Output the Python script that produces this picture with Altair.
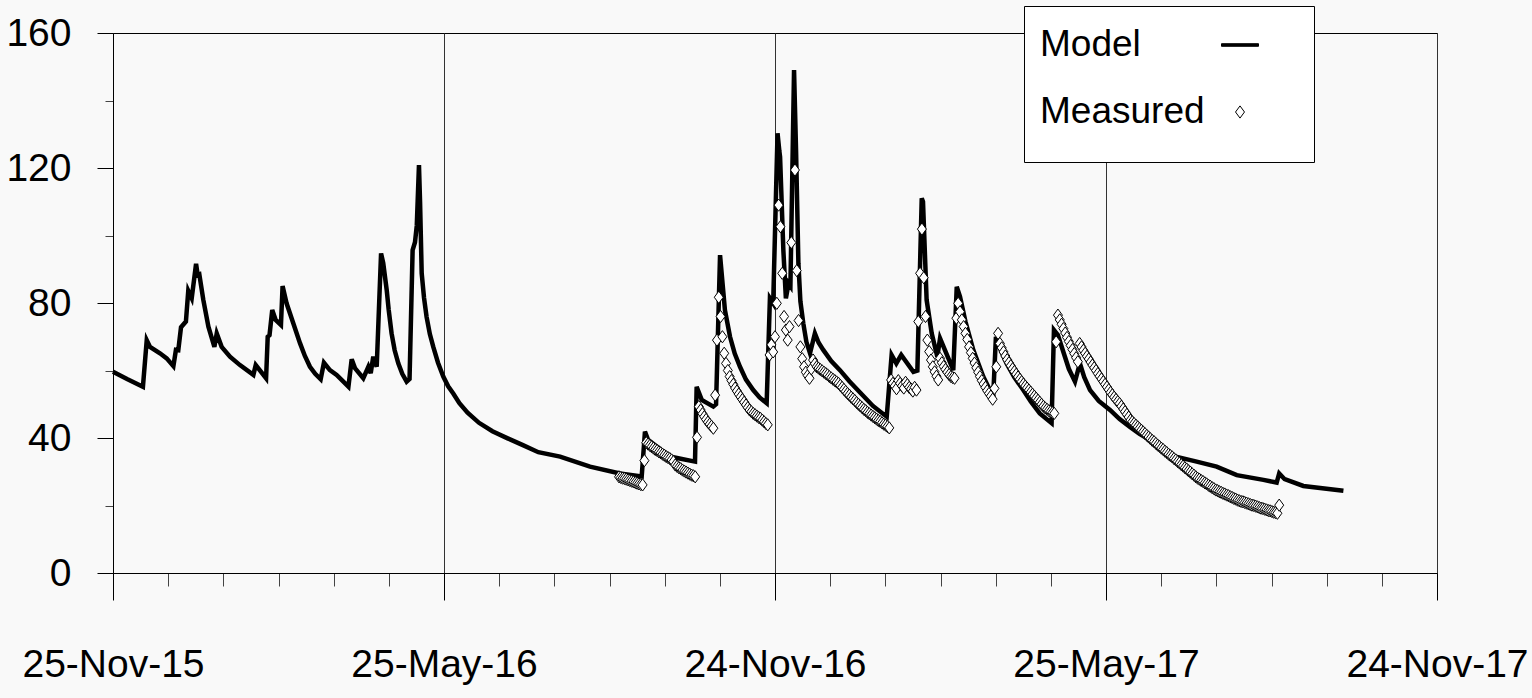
import datetime as dt
import altair as alt
import pandas as pd

START = dt.datetime(2015, 11, 25)
END = dt.datetime(2017, 11, 24)

# Model (simulated) series: day offset from 25-Nov-2015, value
model_day = [0, 8, 16.5, 18.6, 20.4, 25.9, 29.6, 33.3, 34.7, 36, 37.5, 40.2, 41.5, 43.4, 45.8, 46.7,
             47.6, 49.8, 52.6, 55.9, 57.2, 59.9, 64.5, 70, 77.4, 78.7, 84.4, 85.3, 86.3, 87.8, 89.7,
             92.6, 93.5, 95.7, 99.4, 103.1, 105.8, 108.6, 111.5, 114.5, 116.3, 119.6, 123.3, 129.8,
             131.6, 133.4, 138, 140.8, 142.1, 143.5, 145.4, 147.8, 149, 150.9, 152, 153.6, 155.3,
             157.3, 159.5, 161.9, 163.5, 165.2, 166.5, 167.5, 168.7, 169.3, 170.2, 171.5, 172.9,
             174.7, 176.6, 179.2, 182.1, 184.8, 187.6, 191, 195.5, 201.8, 209.2, 217.6, 226, 234.5,
             246.5, 263, 279.5, 291.5, 293.3, 295, 307, 320.9, 321.8, 324.6, 331, 332.5, 334.7,
             337.4, 340.2, 342.8, 345.7, 349, 353, 356.5, 360.4, 362.2, 364, 366.4, 367.4, 367.8,
             369.6, 371, 372.5, 373.5, 375.5, 376.6, 377.9, 379, 380.6, 382.3, 384.3, 387, 389,
             391.6, 396, 400.8, 406, 411.9, 419, 426.6, 429.3, 431.9, 434.6, 437, 441.3, 443.5,
             445.9, 446.6, 448.6, 451.4, 454.5, 456, 463.3, 465.2, 467, 470, 474.3, 479.8, 485.3,
             486.8, 489.5, 492.7, 497, 501.9, 506, 511, 517.5, 518.8, 521, 524, 527, 530.4, 533.1,
             535.5, 538.7, 543.5, 549.7, 555, 560.7, 566, 571.8, 577, 582.8, 586, 597.5, 608.5,
             619.6, 634.3, 641.6, 643, 646, 656.3, 678.4]
model_value = [59.6, 57.4, 55.2, 69.0, 67.0, 65.1, 63.6, 61.3, 66.1, 66.0, 72.8, 74.5, 83.6, 81.4,
               91.6, 88.3, 88.5, 80.9, 73.0, 67.0, 71.0, 67.0, 64.1, 61.6, 58.7, 61.6, 57.7, 70.0,
               70.5, 77.9, 75.0, 73.5, 85.0, 79.9, 74.0, 68.1, 64.3, 61.1, 59.0, 57.4, 62.3, 60.1,
               58.7, 55.2, 63.3, 60.7, 57.7, 61.1, 59.2, 64.1, 61.1, 94.7, 91.8, 83.9, 78.0, 71.0,
               66.0, 62.1, 59.0, 56.7, 57.5, 95.7, 98.0, 103.0, 120.9, 110.0, 88.8, 81.5, 75.9,
               70.8, 67.0, 62.3, 58.2, 55.3, 53.2, 50.3, 47.5, 44.5, 42.0, 39.9, 37.9, 35.8,
               34.5, 31.5, 29.5, 28.6, 41.9, 39.5, 34.5, 33.0, 55.2, 51.3, 49.3, 50.0, 94.2,
               77.9, 70.0, 65.0, 61.1, 57.3, 54.2, 52.0, 50.3, 81.4, 79.9, 130.3, 125.0, 123.3,
               95.7, 81.4, 85.8, 85.0, 149.0, 125.3, 91.8, 80.5, 74.0, 68.5, 65.1, 71.0, 68.3,
               66.1, 62.8, 60.1, 56.8, 53.5, 49.5, 46.3, 64.6, 62.1, 64.6, 62.8, 59.6, 60.0,
               111.0, 110.0, 80.9, 71.0, 64.1, 69.5, 60.1, 84.8, 81.9, 74.5, 66.1, 58.2, 52.2,
               70.0, 66.0, 62.1, 58.0, 54.2, 50.8, 47.3, 44.4, 72.0, 70.5, 65.5, 60.5, 56.7, 62.1,
               58.0, 54.2, 51.0, 48.3, 45.6, 43.3, 41.2, 39.4, 37.0, 35.0, 34.5, 33.0, 31.5,
               29.0, 27.6, 26.8, 29.5, 27.8, 25.8, 24.4]

# Measured series: runs of daily readings, (first day offset, values)
measured_runs = [
    (279, [28.5, 28.3, 28.1, 28.0, 27.8, 27.6, 27.4, 27.2, 27.0, 26.8, 26.6, 26.4, 26.2, 26.1,
           33.3, 38.6, 38.2, 37.8, 37.4, 37.0, 36.6, 36.3, 35.9, 35.6, 35.2, 34.9, 34.5, 34.2,
           33.9, 33.5, 33.0, 32.0, 31.6, 31.2, 30.9, 30.5, 30.2, 29.9, 29.6, 29.3, 29.0, 28.8,
           28.5, 40.2, 49.3, 48.3, 47.2, 46.3, 45.5, 44.7, 44.1, 43.5, 42.9,
           52.7, 69.0, 81.7, 76.0, 70.0, 65.1, 62.1, 60.0, 58.2, 57.0, 55.9, 54.8, 53.9, 53.0,
           52.2, 51.4, 50.6, 49.8, 49.0, 48.3, 47.8, 47.3, 46.9, 46.5, 46.1, 45.8, 45.3, 44.8,
           44.3, 43.9, 64.6, 67.6, 65.5, 70.0, 79.9, 109.0, 102.6, 88.8, 76.0, 72.0, 69.0, 73.0,
           97.9]),
    (376, [119.4, 89.6, 74.8, 67.0, 63.5, 61.1, 59.5, 58.5, 57.7, 60.5, 63.1, 62.0,
           61.1, 60.7, 60.3, 59.9, 59.5, 59.1, 58.7, 58.2, 57.8, 57.4, 57.0, 56.6, 56.2, 55.6,
           55.0, 54.4, 53.8, 53.2, 52.7, 52.1, 51.6, 51.1, 50.5, 50.0, 49.5, 49.0, 48.5, 48.1,
           47.6, 47.2, 46.8, 46.4, 46.0, 45.6, 45.2, 44.9, 44.5, 44.1, 43.8, 43.4, 43.0,
           57.2, 56.2, 55.4, 54.6, 57.0, 56.2, 55.4, 54.8, 56.5, 55.8, 55.0, 54.5, 53.9, 55.0,
           54.2, 74.5, 88.8, 101.9, 87.5, 76.0, 69.0, 65.6, 63.1, 61.1, 59.6, 58.3, 57.2, 63.6,
           62.3, 61.2, 60.3, 59.5, 58.8, 58.2, 57.9, 57.7, 75.5, 79.9, 77.4, 75.0, 73.0, 71.0,
           69.2, 67.0, 65.3, 63.6, 62.2, 60.8, 59.5, 58.2, 57.0, 56.0, 55.0, 54.0, 53.2, 52.4,
           51.5, 54.7, 61.1, 71.0, 68.0, 66.7, 65.5, 64.3, 63.2, 62.3, 61.4, 60.5, 59.7, 58.9,
           58.1, 57.4, 56.7, 56.0, 55.4, 54.8, 54.2, 53.6, 53.0, 52.4, 51.8, 51.2, 50.6, 50.0,
           49.4, 48.9, 48.5, 48.1, 47.8, 47.5, 47.3, 68.5, 76.4, 75.0, 73.7, 72.4, 71.1, 69.8,
           68.6, 67.4, 66.2, 65.0, 63.8, 62.6, 68.0, 67.0, 66.0, 65.1, 64.2, 63.4, 62.5, 61.6,
           60.8, 60.0, 59.1, 58.3, 57.5, 56.7, 55.9, 55.1, 54.3, 53.5, 52.8, 52.1, 51.4, 50.8,
           50.2, 49.4, 48.6, 47.8, 47.0, 46.2, 45.3, 44.8, 44.3, 43.8, 43.3, 42.8, 42.3, 41.8,
           41.3, 40.8, 40.3, 39.8, 39.3, 38.9, 38.4, 37.9, 37.5, 37.0, 36.6, 36.1, 35.7, 35.2,
           34.8, 34.4, 33.9, 33.5, 33.0, 32.6, 32.1, 31.7, 31.2, 30.8, 30.3, 29.9, 29.4, 29.0,
           28.5, 28.1, 27.8, 27.4, 27.1, 26.7, 26.4, 26.0, 25.7, 25.3, 25.0, 24.6, 24.4, 24.1,
           23.9, 23.6, 23.4, 23.1, 22.9, 22.6, 22.4, 22.1, 21.9, 21.6, 21.4, 21.2, 21.1, 20.9,
           20.7, 20.5, 20.3, 20.1, 20.0, 19.8, 19.6, 19.4, 19.2, 19.1, 18.9, 18.7, 18.5, 18.4,
           18.2, 18.0, 17.9, 17.7, 20.1]),
]

series_names = ["Model", "Measured"]
y_major = [0, 40, 80, 120, 160]
y_minor = [20, 60, 100, 140]
MAJOR_DAYS = 182.5          # axis major unit (days)
MINOR_PER_MAJOR = 6

FONT = "Liberation Sans"
FS = 39
BG = "#f9f9f9"
# legend/point symbols (unit box scaled by sqrt(size)/2); the trailing move widens the legend box
LINE_SYM = "M-1,-0.07H1V0.07H-1Z M2.8,0.8"
DIAMOND_SYM = "M0,-0.33L0.243,0L0,0.33L-0.243,0Z"
SYM_SIZE = 1369


def to_dt(d):
    return alt.DateTime(year=d.year, month=d.month, date=d.day, hours=d.hour, minutes=d.minute)


model_df = pd.DataFrame({
    "date": [START + dt.timedelta(days=d) for d in model_day],
    "value": model_value,
    "series": "Model",
})
m_days, m_vals = [], []
for first, vals in measured_runs:
    for i, v in enumerate(vals):
        m_days.append(first + i)
        m_vals.append(v)
meas_df = pd.DataFrame({
    "date": [START + dt.timedelta(days=d) for d in m_days],
    "value": m_vals,
    "series": "Measured",
})

major_ticks = [to_dt(START + dt.timedelta(days=MAJOR_DAYS * k)) for k in range(5)]
minor_ticks = [to_dt(START + dt.timedelta(days=MAJOR_DAYS / MINOR_PER_MAJOR * k))
               for k in range(4 * MINOR_PER_MAJOR + 1) if k % MINOR_PER_MAJOR]

xscale = alt.Scale(domain=[to_dt(START), to_dt(END)])
yscale = alt.Scale(domain=[0, 160], nice=False, zero=True)

x_major_axis = alt.Axis(orient="bottom", values=major_ticks, format="%d-%b-%y", title=None,
                        grid=True, gridColor="#333333", gridWidth=1, tickSize=27,
                        tickColor="black", domainColor="black", labelFontSize=FS,
                        labelFont=FONT, labelColor="black", labelPadding=45,
                        labelFlush=False, labelOverlap=False, labelLimit=500)
y_major_axis = alt.Axis(orient="left", values=y_major, title=None, grid=False, tickSize=16,
                        tickColor="black", domainColor="black", labelFontSize=FS,
                        labelFont=FONT, labelColor="black", labelPadding=26, labelLimit=500)

model = alt.Chart(model_df).mark_line(color="black", strokeWidth=4.5).encode(
    x=alt.X("date:T", scale=xscale, axis=x_major_axis),
    y=alt.Y("value:Q", scale=yscale, axis=y_major_axis),
)

SPACER = "\u00a0" * 98
leg = alt.Legend(title=SPACER)

measured = alt.Chart(meas_df).mark_point(
    filled=True, size=SYM_SIZE, strokeWidth=1, opacity=1
).encode(
    x=alt.X("date:T", scale=xscale, axis=None),
    y=alt.Y("value:Q", scale=yscale, axis=None),
    shape=alt.Shape("series:N", legend=leg,
                    scale=alt.Scale(domain=series_names, range=[LINE_SYM, DIAMOND_SYM])),
    fill=alt.Fill("series:N", legend=leg,
                  scale=alt.Scale(domain=series_names, range=["black", "white"])),
    stroke=alt.Stroke("series:N", legend=leg,
                      scale=alt.Scale(domain=series_names, range=["black", "black"])),
)

minor = alt.Chart(model_df).mark_point(opacity=0).encode(
    x=alt.X("date:T", scale=xscale,
            axis=alt.Axis(orient="bottom", values=minor_ticks, labels=False, domain=False,
                          grid=False, tickSize=13, tickColor="#444444", title=None)),
    y=alt.Y("value:Q", scale=yscale,
            axis=alt.Axis(orient="left", values=y_minor, labels=False, domain=False,
                          grid=False, tickSize=8, tickColor="#444444", title=None)),
)

chart = alt.layer(minor, model, measured).resolve_axis(
    x="independent", y="independent"
).properties(
    width=1324, height=540,
    autosize=alt.AutoSizeParams(type="none"),
    padding={"left": 113, "top": 33, "right": 95, "bottom": 125},
    background=BG,
).configure_view(
    fill=BG, stroke="black", strokeWidth=1,
).configure_legend(
    orient="none", legendX=911, legendY=-27, fillColor="white", strokeColor="black",
    padding=20, labelFontSize=37, labelFont=FONT, labelColor="black", labelLimit=500,
    symbolSize=SYM_SIZE, symbolStrokeWidth=1, symbolOpacity=1,
    symbolOffset=177, labelOffset={"expr": "-219"}, rowPadding=30,
    titleOrient="bottom", titleFontSize=10, titlePadding=2, titleFont=FONT, titleLimit=600,
)

chart.save("out.html", embed_options={"renderer": "svg", "actions": False})
